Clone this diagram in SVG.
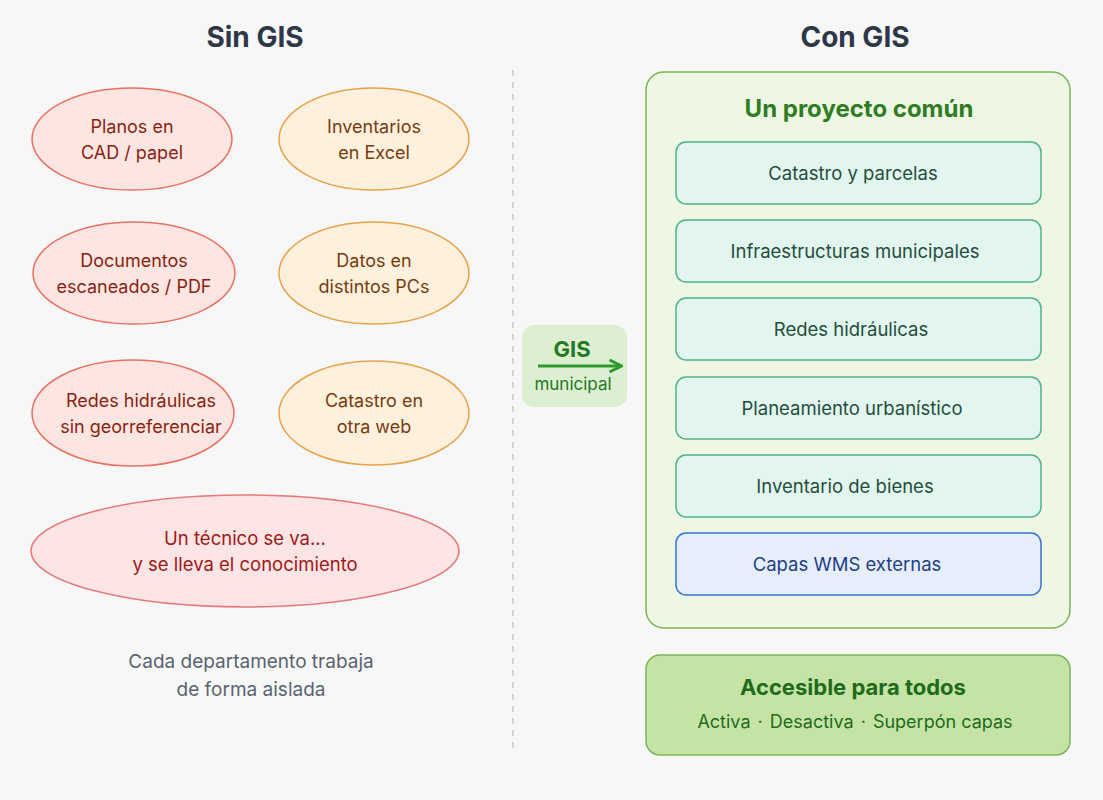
<svg xmlns="http://www.w3.org/2000/svg" width="1103" height="800" viewBox="0 0 1103 800">
<defs>
<marker id="arr" viewBox="0 0 10 10" refX="8" refY="5" markerWidth="5" markerHeight="5" orient="auto"><path d="M1,1 L9,5 L1,9" fill="none" stroke="#2e9a2e" stroke-width="2"/></marker>
</defs>
<style>
text{font-family:Inter,"Liberation Sans",sans-serif;text-anchor:middle}
.title{font-size:28px;font-weight:700;fill:#2d3748}
.er{fill:#fde6e1;stroke:#ec7063;stroke-width:1.5}
.eo{fill:#fdf0dc;stroke:#eaa24a;stroke-width:1.5}
.tr{font-size:18px;fill:#8b1f12}
.to{font-size:18px;fill:#7a3b10}
.layer{fill:#e3f5ef;stroke:#4fb38a;stroke-width:1.5}
.lt{font-size:18.5px;fill:#1f4e3d}
</style>
<rect width="1103" height="800" fill="#f7f7f7"/>
<text class="title" x="255" y="47">Sin GIS</text>
<text class="title" x="855" y="47">Con GIS</text>
<line x1="513" y1="70" x2="513" y2="748" stroke="#c8c8c8" stroke-width="1.5" stroke-dasharray="6,6"/>

<g id="n-planos"><ellipse class="er" cx="132" cy="139" rx="100" ry="51"/><text class="tr" x="132" y="133">Planos en</text><text class="tr" x="132" y="159">CAD / papel</text></g>
<g id="n-inventarios"><ellipse class="eo" cx="374" cy="139" rx="95" ry="51"/><text class="to" x="374" y="133">Inventarios</text><text class="to" x="374" y="159">en Excel</text></g>
<g id="n-documentos"><ellipse class="er" cx="134" cy="273" rx="101" ry="51"/><text class="tr" x="134" y="267">Documentos</text><text class="tr" x="134" y="293">escaneados / PDF</text></g>
<g id="n-datos"><ellipse class="eo" cx="374" cy="273" rx="95" ry="51"/><text class="to" x="374" y="267">Datos en</text><text class="to" x="374" y="293">distintos PCs</text></g>
<g id="n-redes"><ellipse class="er" cx="133" cy="413" rx="101" ry="53"/><text class="tr" x="141" y="407">Redes hidráulicas</text><text class="tr" x="141" y="433">sin georreferenciar</text></g>
<g id="n-catastro"><ellipse class="eo" cx="374" cy="413" rx="95" ry="52"/><text class="to" x="374" y="407">Catastro en</text><text class="to" x="374" y="433">otra web</text></g>
<g id="n-tecnico"><ellipse cx="245" cy="551" rx="214" ry="56" fill="#fde5e5" stroke="#e8787a" stroke-width="1.5"/><text x="245" y="545" font-size="18.5" fill="#a01818">Un técnico se va...</text><text x="245" y="571" font-size="18.5" fill="#a01818">y se lleva el conocimiento</text></g>
<g id="n-nota"><text x="251" y="668" font-size="19" fill="#5a6370">Cada departamento trabaja</text><text x="251" y="696" font-size="19" fill="#5a6370">de forma aislada</text></g>

<g id="n-gis"><rect x="522" y="325" width="105" height="82" rx="12" fill="#dcefd3"/><text x="572" y="357" font-size="22" font-weight="700" fill="#237a23">GIS</text><text x="573" y="390" font-size="17" fill="#237a23">municipal</text></g>
<g id="connectors"><line x1="538" y1="366" x2="620" y2="366" stroke="#2e9a2e" stroke-width="3" marker-end="url(#arr)"/></g>

<g id="n-proyecto"><rect x="646" y="72" width="424" height="556" rx="18" fill="#eef6e4" stroke="#7cb65a" stroke-width="1.5"/><text x="859" y="117" font-size="24" font-weight="700" fill="#2e7d22">Un proyecto común</text></g>
<g id="n-l1"><rect class="layer" x="676" y="142" width="365" height="62" rx="10"/><text class="lt" x="853" y="180">Catastro y parcelas</text></g>
<g id="n-l2"><rect class="layer" x="676" y="220" width="365" height="62" rx="10"/><text class="lt" x="855" y="258">Infraestructuras municipales</text></g>
<g id="n-l3"><rect class="layer" x="676" y="298" width="365" height="62" rx="10"/><text class="lt" x="851" y="336">Redes hidráulicas</text></g>
<g id="n-l4"><rect class="layer" x="676" y="377" width="365" height="62" rx="10"/><text class="lt" x="852" y="415">Planeamiento urbanístico</text></g>
<g id="n-l5"><rect class="layer" x="676" y="455" width="365" height="62" rx="10"/><text class="lt" x="845" y="493">Inventario de bienes</text></g>
<g id="n-l6"><rect x="676" y="533" width="365" height="62" rx="10" fill="#e5eefa" stroke="#3a73d0" stroke-width="1.5"/><text x="847" y="571" font-size="18.5" fill="#1f3f8a">Capas WMS externas</text></g>

<g id="n-accesible"><rect x="646" y="655" width="424" height="100" rx="14" fill="#c5e3a5" stroke="#7cb65a" stroke-width="1.5"/><text x="853" y="695" font-size="22" font-weight="700" fill="#1e6b1a">Accesible para todos</text><text x="855" y="728" font-size="18" fill="#1e6b1a">Activa <tspan dx="2">·</tspan> <tspan dx="2">Desactiva</tspan> <tspan dx="2">·</tspan> <tspan dx="2">Superpón capas</tspan></text></g>
</svg>
